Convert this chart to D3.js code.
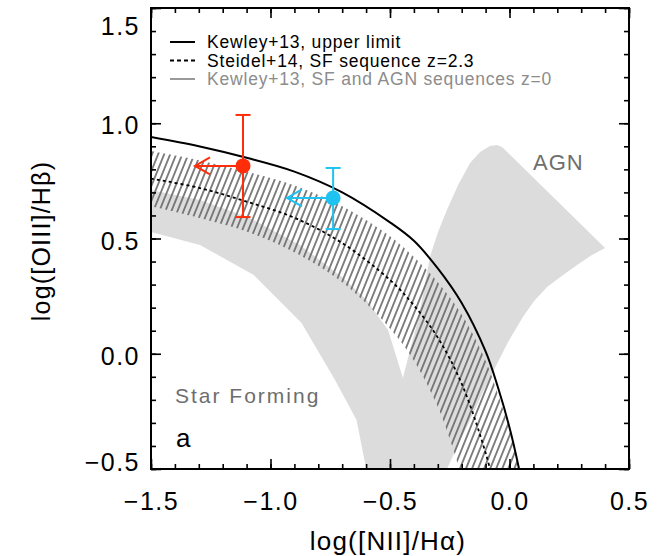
<!DOCTYPE html>
<html><head><meta charset="utf-8">
<script src="https://cdn.jsdelivr.net/npm/d3@7"></script>
<style>
html,body{margin:0;padding:0;background:#fff;}
svg text{font-family:"Liberation Sans",Helvetica,Arial,sans-serif;}
</style>
</head><body>
<svg id="chart" width="665" height="556"></svg>
<script>
// ---- data ----
const xTicks = [-1.5, -1.0, -0.5, 0.0, 0.5];
const yTicks = [-0.5, 0.0, 0.5, 1.0, 1.5];
const xMinor = d3.range(-15, 6).map(d => d / 10);
const yMinor = d3.range(-5, 16).map(d => d / 10);

// Kewley+13 upper limit (solid)
const kewleyX = [-1.5, -1.3, -1.1, -0.9, -0.7, -0.5, -0.4, -0.3, -0.2, -0.1, -0.05, 0.0, 0.04, 0.06];
const kewleyY = [0.94, 0.90, 0.85, 0.79, 0.70, 0.57, 0.49, 0.37, 0.22, 0.01, -0.14, -0.32, -0.50, -0.61];
// Steidel+14 SF sequence (dotted)
const steidelX = [-1.5, -1.3, -1.1, -0.9, -0.7, -0.5, -0.4, -0.3, -0.2, -0.1, -0.06];
const steidelY = [0.76, 0.72, 0.66, 0.59, 0.48, 0.32, 0.21, 0.07, -0.13, -0.43, -0.59];
// hatched band around Steidel+14
const bandUpX = [-1.5, -1.3, -1.1, -0.9, -0.7, -0.5, -0.4, -0.3, -0.2, -0.1, -0.05, 0.0, 0.05];
const bandUpY = [0.88, 0.84, 0.79, 0.73, 0.64, 0.51, 0.42, 0.31, 0.17, -0.03, -0.17, -0.33, -0.53];
const bandLoX = [-1.5, -1.3, -1.1, -0.9, -0.7, -0.5, -0.4, -0.3, -0.25, -0.2];
const bandLoY = [0.64, 0.59, 0.53, 0.44, 0.31, 0.11, -0.03, -0.23, -0.37, -0.53];
// Kewley+13 z=0 SF sequence region (grey)
const sfX = [-1.55, -1.5, -1.295, -1.086, -0.877, -0.697, -0.60, -0.508, -0.446, -0.25, -0.59, -0.64, -0.73, -0.87, -1.07, -1.295, -1.5, -1.55];
const sfY = [0.72, 0.71, 0.667, 0.589, 0.472, 0.33, 0.235, 0.103, -0.105, -0.55, -0.55, -0.287, -0.114, 0.133, 0.342, 0.472, 0.528, 0.53];
// Kewley+13 z=0 AGN sequence region (grey)
const agnX = [-0.446, -0.416, -0.383, -0.358, -0.333, -0.299, -0.262, -0.215, -0.165, -0.123, -0.082, -0.052, -0.031, 0.400, 0.345, 0.295, 0.224, 0.157, 0.103, 0.056, -0.006, -0.061, -0.115, -0.165, -0.215, -0.262, -0.28];
const agnY = [-0.105, 0.016, 0.146, 0.277, 0.420, 0.528, 0.624, 0.732, 0.828, 0.875, 0.901, 0.906, 0.897, 0.459, 0.428, 0.394, 0.342, 0.290, 0.229, 0.159, 0.051, -0.062, -0.175, -0.287, -0.396, -0.5, -0.55];

// measured points (upper limits in x)
const ptX = [-1.115, -0.738];
const ptY = [0.815, 0.676];
const ptYlo = [0.593, 0.541];
const ptYhi = [1.036, 0.806];
const ptLimX = [-1.316, -0.931];
const ptColor = ["#ff2d0a", "#1ec3f2"];

const legendLabels = ["Kewley+13, upper limit", "Steidel+14, SF sequence z=2.3", "Kewley+13, SF and AGN sequences z=0"];

// ---- drawing ----
const svg = d3.select("#chart");
const L = 151, R = 629, T = 8, B = 469;
const x = d3.scaleLinear().domain([-1.5, 0.5]).range([L, R]);
const y = d3.scaleLinear().domain([-0.5, 1.5]).range([B, T]);

const defs = svg.append("defs");
defs.append("clipPath").attr("id", "clip").append("rect")
  .attr("x", L).attr("y", T).attr("width", R - L).attr("height", B - T);
const pat = defs.append("pattern").attr("id", "hatch").attr("patternUnits", "userSpaceOnUse")
  .attr("width", 5.6).attr("height", 10).attr("patternTransform", "rotate(22)");
pat.append("line").attr("x1", 2.8).attr("x2", 2.8).attr("y1", -1).attr("y2", 11)
  .attr("stroke", "#666").attr("stroke-width", 1.6);

const plot = svg.append("g").attr("clip-path", "url(#clip)");
const line = d3.line().x(d => x(d[0])).y(d => y(d[1]));
const smooth = d3.line().x(d => x(d[0])).y(d => y(d[1])).curve(d3.curveCatmullRom);
const zip = (a, b) => a.map((v, i) => [v, b[i]]);

// grey regions
plot.append("path").attr("d", line(zip(sfX, sfY)) + "Z").attr("fill", "#dcdcdc");
plot.append("path").attr("d", line(zip(agnX, agnY)) + "Z").attr("fill", "#dcdcdc");

// hatched band
const up = zip(bandUpX, bandUpY), lo = zip(bandLoX, bandLoY).reverse();
const area = smooth(up) + "L" + smooth(lo).slice(1) + "Z";
plot.append("path").attr("d", area).attr("fill", "url(#hatch)");

// curves
plot.append("path").attr("d", smooth(zip(steidelX, steidelY))).attr("fill", "none")
  .attr("stroke", "#000").attr("stroke-width", 1.8).attr("stroke-dasharray", "3,3");
plot.append("path").attr("d", smooth(zip(kewleyX, kewleyY))).attr("fill", "none")
  .attr("stroke", "#000").attr("stroke-width", 2);

// points
ptX.forEach((px, i) => {
  const g = plot.append("g").attr("stroke", ptColor[i]).attr("stroke-width", 2).attr("fill", "none");
  const cx = x(px), cy = y(ptY[i]);
  g.append("line").attr("x1", cx).attr("x2", cx).attr("y1", y(ptYlo[i])).attr("y2", y(ptYhi[i]));
  [ptYlo[i], ptYhi[i]].forEach(v => g.append("line").attr("x1", cx - 7.5).attr("x2", cx + 7.5).attr("y1", y(v)).attr("y2", y(v)));
  const tx = x(ptLimX[i]);
  g.append("line").attr("x1", cx).attr("x2", tx).attr("y1", cy).attr("y2", cy);
  g.append("path").attr("d", `M${tx + 15},${cy - 8.5}L${tx},${cy}L${tx + 15},${cy + 8.5}`);
  plot.append("circle").attr("cx", cx).attr("cy", cy).attr("r", 7.5).attr("fill", ptColor[i]);
});

// labels in plot
svg.append("text").attr("x", 533).attr("y", 170).attr("font-size", 22).attr("fill", "#6e6e6e")
  .attr("letter-spacing", 1).text("AGN");
svg.append("text").attr("x", 175).attr("y", 403).attr("font-size", 21).attr("fill", "#6e6e6e")
  .attr("letter-spacing", 2).text("Star Forming");
svg.append("text").attr("x", 176).attr("y", 447).attr("font-size", 26).attr("fill", "#000").text("a");

// legend
const legStyles = [{c: "#000", d: null}, {c: "#000", d: "4,3"}, {c: "#9a9a9a", d: null}];
legendLabels.forEach((t, i) => {
  const ly = 42 + i * 18.5;
  svg.append("line").attr("x1", 170).attr("x2", 195).attr("y1", ly).attr("y2", ly)
    .attr("stroke", legStyles[i].c).attr("stroke-width", 2).attr("stroke-dasharray", legStyles[i].d);
  svg.append("text").attr("x", 207).attr("y", ly + 6).attr("font-size", 17.5).attr("letter-spacing", 0.8)
    .attr("fill", i === 2 ? "#8c8c8c" : "#000").text(t);
});

// axes
const fmt = d3.format(".1f");
function styleAxis(g) {
  g.select(".domain").remove();
  g.selectAll("line").attr("stroke", "#000").attr("stroke-width", 1.6);
  g.selectAll("text").attr("font-size", 25).attr("fill", "#000").attr("letter-spacing", 1.5)
    .style("font-family", '"Liberation Sans",Helvetica,Arial,sans-serif');
}
svg.append("g").attr("transform", `translate(0,${B})`)
  .call(d3.axisBottom(x).tickValues(xMinor).tickSize(-5).tickFormat("")).call(styleAxis);
svg.append("g").attr("transform", `translate(0,${B})`)
  .call(d3.axisBottom(x).tickValues(xTicks).tickSize(-10).tickPadding(23).tickFormat(fmt)).call(styleAxis);
svg.append("g").attr("transform", `translate(0,${T})`)
  .call(d3.axisTop(x).tickValues(xMinor).tickSize(-5).tickFormat("")).call(styleAxis);
svg.append("g").attr("transform", `translate(0,${T})`)
  .call(d3.axisTop(x).tickValues(xTicks).tickSize(-10).tickFormat("")).call(styleAxis);
svg.append("g").attr("transform", `translate(${L},0)`)
  .call(d3.axisLeft(y).tickValues(yMinor).tickSize(-5).tickFormat("")).call(styleAxis);
const yl = svg.append("g").attr("transform", `translate(${L},0)`)
  .call(d3.axisLeft(y).tickValues(yTicks).tickSize(-10).tickPadding(11).tickFormat(fmt)).call(styleAxis);
yl.selectAll(".tick text").attr("dy", d => d === 1.5 ? "1.05em" : d === -0.5 ? "0.05em" : "0.42em");
svg.append("g").attr("transform", `translate(${R},0)`)
  .call(d3.axisRight(y).tickValues(yMinor).tickSize(-5).tickFormat("")).call(styleAxis);
svg.append("g").attr("transform", `translate(${R},0)`)
  .call(d3.axisRight(y).tickValues(yTicks).tickSize(-10).tickFormat("")).call(styleAxis);

// frame
svg.append("rect").attr("x", L).attr("y", T).attr("width", R - L).attr("height", B - T)
  .attr("fill", "none").attr("stroke", "#000").attr("stroke-width", 2);

// axis titles
svg.append("text").attr("x", (L + R) / 2 - 2).attr("y", 550).attr("text-anchor", "middle")
  .attr("font-size", 26).attr("letter-spacing", 1.2).text("log([NII]/Hα)");
svg.append("text").attr("transform", "translate(50,241) rotate(-90)").attr("text-anchor", "middle")
  .attr("font-size", 25).attr("letter-spacing", 1.2).text("log([OIII]/Hβ)");
</script>
</body></html>
